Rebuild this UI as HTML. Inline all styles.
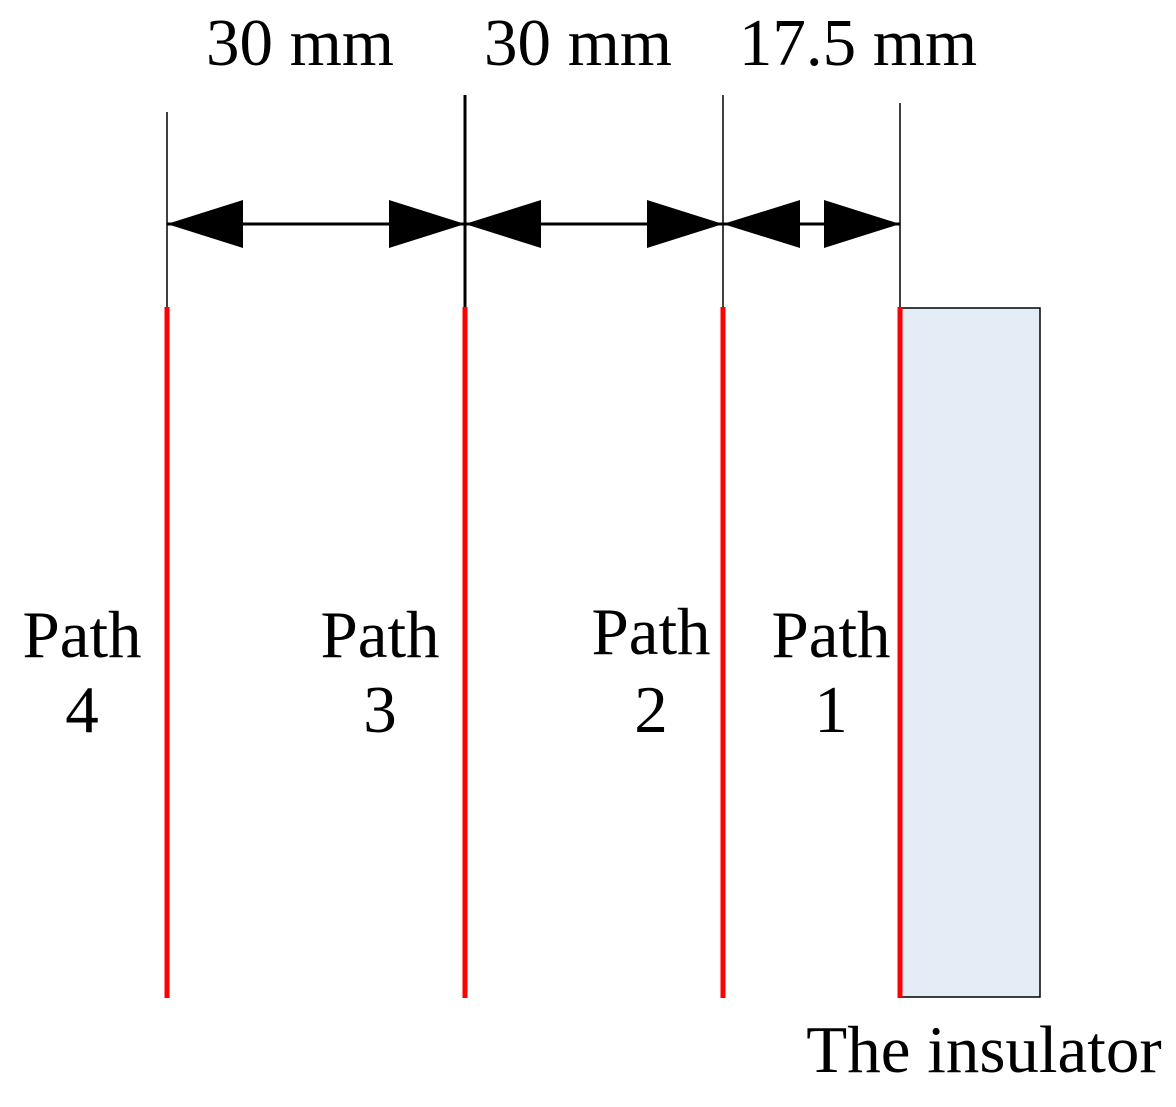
<!DOCTYPE html>
<html><head><meta charset="utf-8"><style>
html,body{margin:0;padding:0;background:#fff;}
svg{display:block;}
text{font-family:"Liberation Serif",serif;font-size:67px;fill:#000;}
</style></head><body>
<svg width="1176" height="1107" viewBox="0 0 1176 1107" xmlns="http://www.w3.org/2000/svg">
<rect x="900" y="308" width="140" height="689" fill="#e4ecf6" stroke="#000" stroke-width="1.5"/>
<g stroke="#000">
<line x1="167" y1="112" x2="167" y2="307" stroke-width="1.5"/>
<line x1="465" y1="95" x2="465" y2="353" stroke-width="3"/>
<line x1="723" y1="95" x2="723" y2="343" stroke-width="1.5"/>
<line x1="900" y1="103" x2="900" y2="307" stroke-width="1.5"/>
<line x1="167" y1="224" x2="900" y2="224" stroke-width="3"/>
</g>
<g fill="#000">
<polygon points="167,224 243,200 243,248"/>
<polygon points="465,224 389,200 389,248"/>
<polygon points="465,224 541,200 541,248"/>
<polygon points="723,224 647,200 647,248"/>
<polygon points="723,224 800,200 800,248"/>
<polygon points="900,224 824,200 824,248"/>
</g>
<g stroke="#ff0000" stroke-width="5">
<line x1="167" y1="307" x2="167" y2="998"/>
<line x1="465" y1="307" x2="465" y2="998"/>
<line x1="723" y1="307" x2="723" y2="998"/>
<line x1="900" y1="307" x2="900" y2="998"/>
</g>
<g text-anchor="middle">
<text x="300" y="65">30 mm</text>
<text x="578" y="65">30 mm</text>
<text x="858" y="65">17.5 mm</text>
<text x="82" y="657">Path</text><text x="82" y="732">4</text>
<text x="380" y="657">Path</text><text x="380" y="732">3</text>
<text x="651" y="654">Path</text><text x="651" y="732">2</text>
<text x="831" y="657">Path</text><text x="831" y="732">1</text>
<text x="984" y="1072">The insulator</text>
</g>
</svg>
</body></html>
